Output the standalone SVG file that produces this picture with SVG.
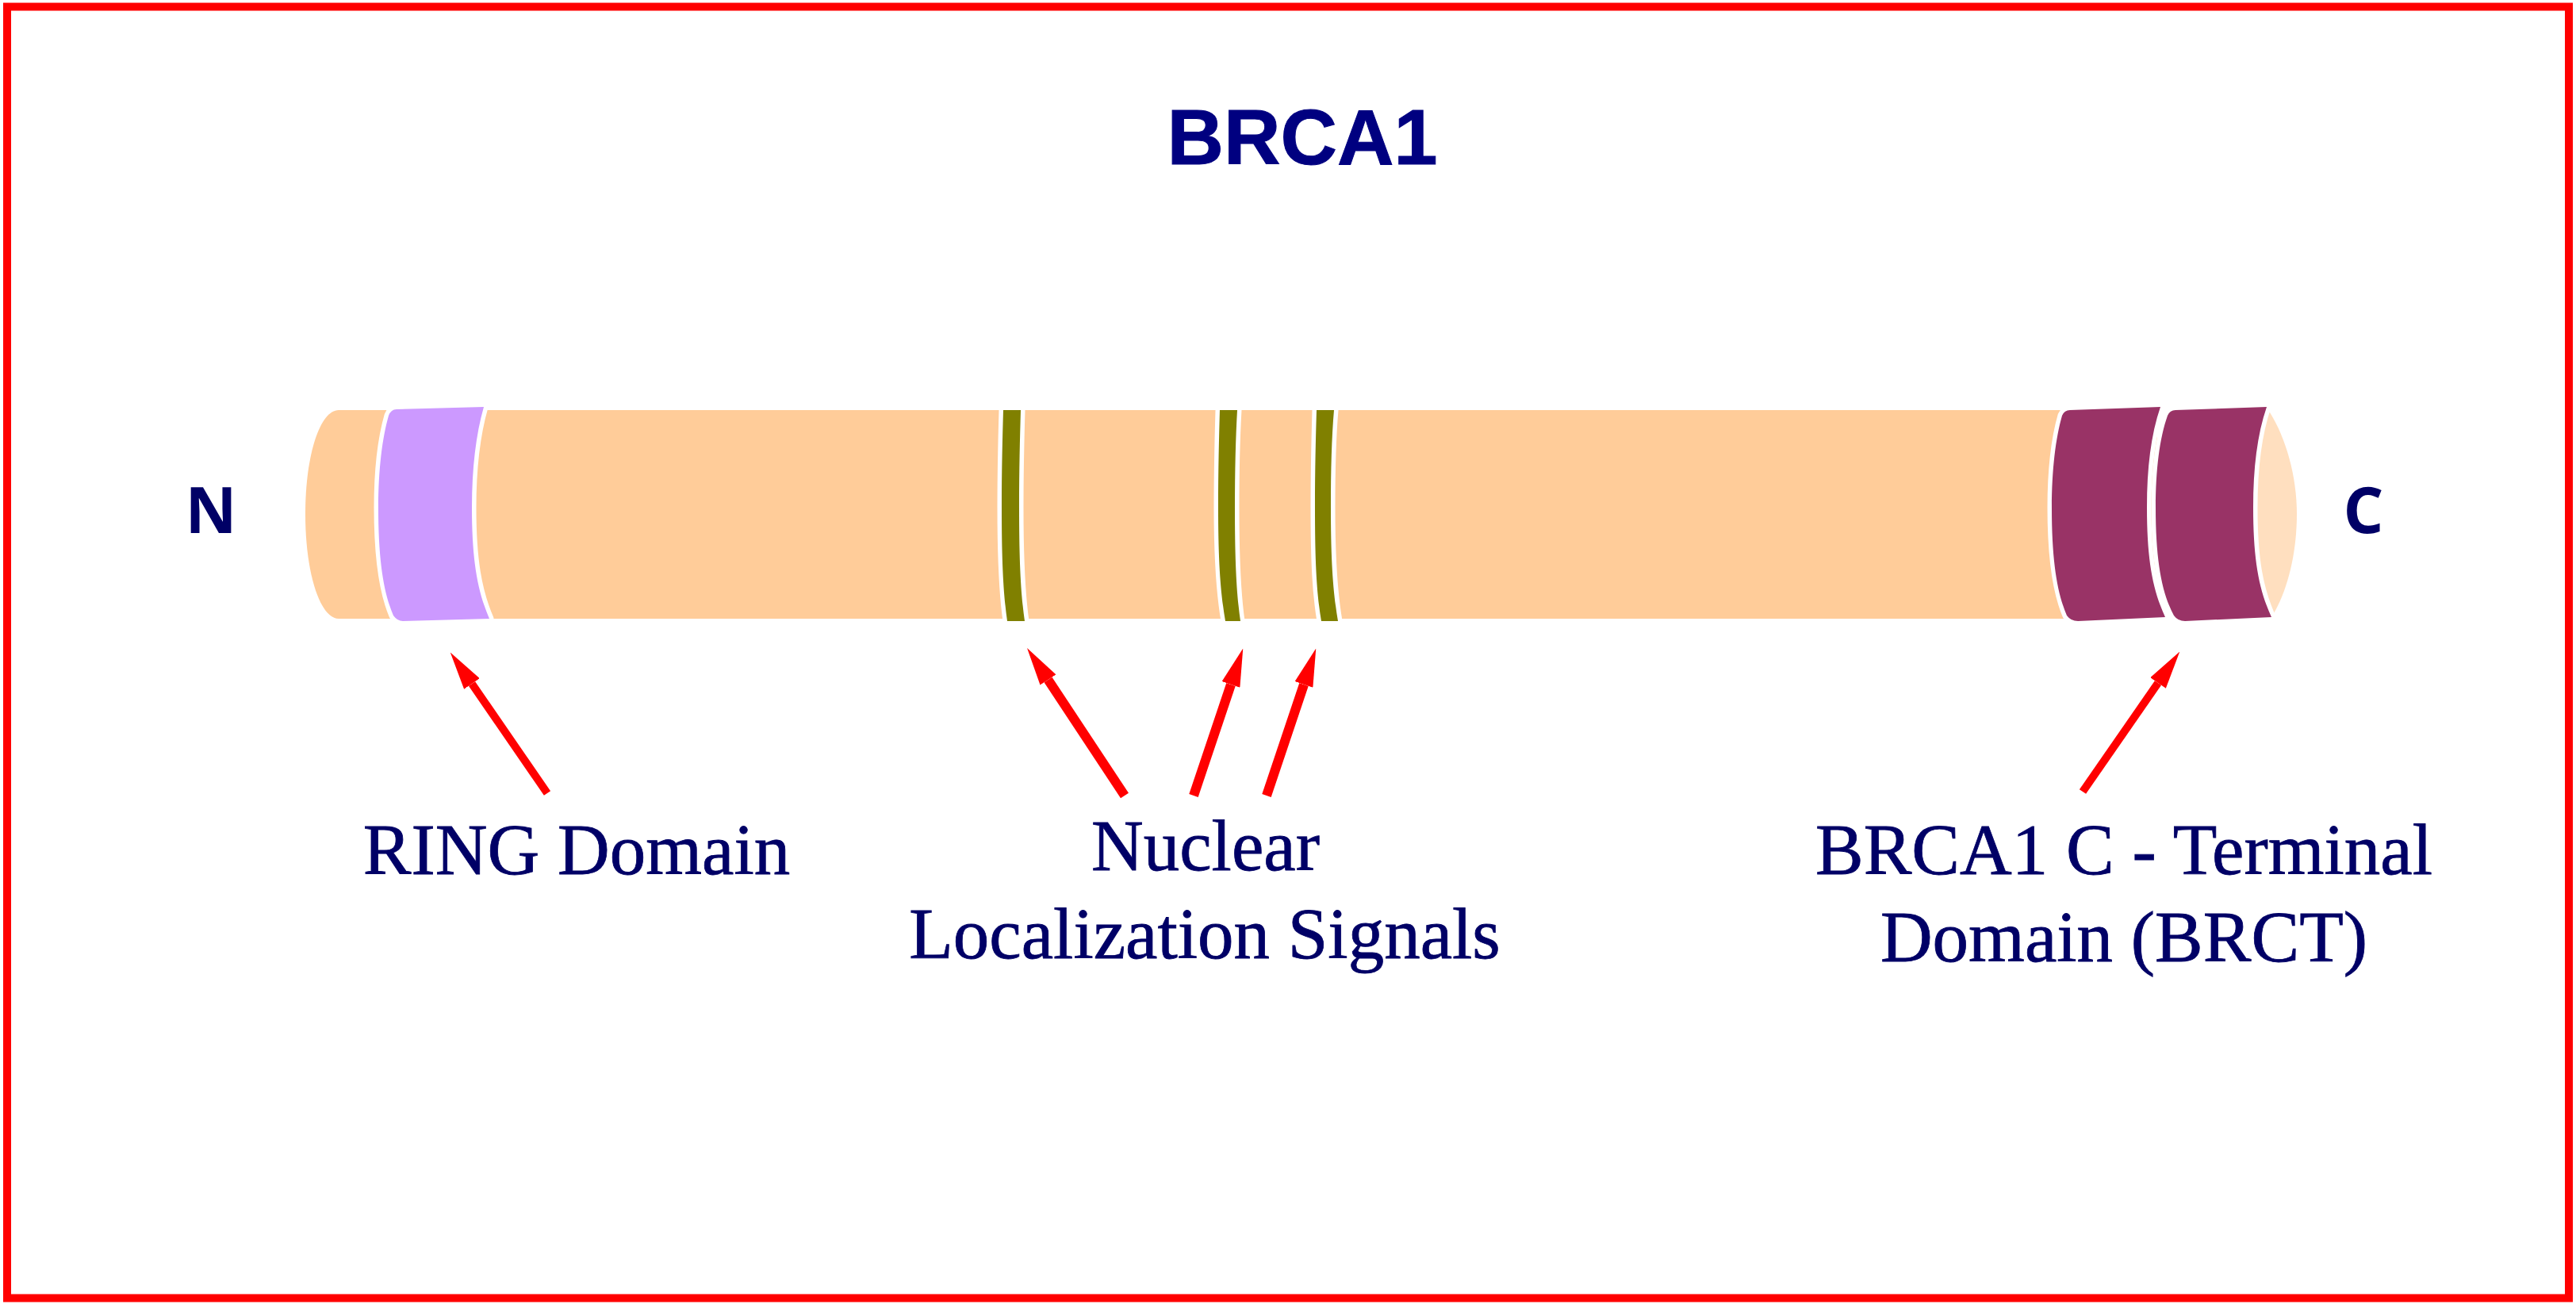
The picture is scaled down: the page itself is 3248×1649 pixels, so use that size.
<svg xmlns="http://www.w3.org/2000/svg" width="3248" height="1649" viewBox="0 0 3248 1649">
<style>
.orange{fill:#FFCC99}.cap{fill:#FFDFBF}
.band{stroke:#FFFFFF;stroke-width:11;stroke-linejoin:round;paint-order:stroke}
.purple{fill:#CC99FF}.olive{fill:#808000}.maroon{fill:#993366}
.title{font-family:"Liberation Sans",Arial,sans-serif;font-weight:700;font-size:99px;fill:#000080;stroke:#000080;stroke-width:1;text-anchor:middle}
.end{font-family:"Open Sans","Liberation Sans",sans-serif;font-weight:700;font-size:80px;fill:#000066;text-anchor:middle}
.label{font-family:"Liberation Serif","Times New Roman",serif;font-size:91px;fill:#000066;stroke:#000066;stroke-width:.8;text-anchor:middle}
.arrow{stroke:#FF0000;stroke-width:12;fill:none;marker-end:url(#head)}
.thin{stroke-width:10}
</style>
<defs>
<marker id="head" markerUnits="userSpaceOnUse" viewBox="0 -12 48 24" markerWidth="48" markerHeight="24" refX="0" refY="0" orient="auto"><path d="M0,-12 L48,0 L0,12 Z" fill="#FF0000"/></marker>
</defs>
<rect width="3248" height="1649" fill="#FFFFFF"/>
<rect id="frame" x="9" y="8.5" width="3230" height="1628" fill="none" stroke="#FF0000" stroke-width="10"/>
<g id="title"><text class="title" x="1642" y="207">BRCA1</text></g>
<g id="protein">
<path class="cap" d="M2800,520 L2862,520 C2882,552 2896,600 2896,648 C2896,696 2885,742 2867,773 L2800,773 Z"/>
<path class="orange" d="M2720,517 L427,517 C404,517 385,572 385,648 C385,724 404,780 427,780 L2720,780 Z"/>
</g>
<g id="ring-domain"><path class="band purple" d="M500,516 L610,513 C600,548 595,590 595,640 C595,706 602,745 617,780 L508,783 Q501,783 496,776 C484,748 477,708 477,640 C477,592 482,552 490,524 Q493,516 500,516 Z"/></g>
<g id="nls-1"><path class="band olive" d="M1265,517 L1287,517 C1286,552 1285,592 1285,640 C1285,708 1287,748 1292,783 L1270,783 C1265,748 1263,708 1263,640 C1263,592 1264,552 1265,517 Z"/></g>
<g id="nls-2"><path class="band olive" d="M1538,517 L1560,517 C1558,552 1557,592 1557,640 C1557,708 1559,748 1564,783 L1545,783 C1539,748 1536,708 1536,640 C1536,592 1537,552 1538,517 Z"/></g>
<g id="nls-3"><path class="band olive" d="M1660,517 L1682,517 C1679,552 1678,592 1678,640 C1678,708 1681,748 1687,783 L1666,783 C1660,748 1658,708 1658,640 C1658,592 1659,552 1660,517 Z"/></g>
<g id="brct-2"><path class="band maroon" d="M2743,517 L2858,513 C2846,548 2841,590 2841,640 C2841,705 2848,743 2864,778 L2755,783 Q2746,783 2741,776 C2726,748 2718,708 2718,640 C2718,592 2723,552 2733,524 Q2736,517 2743,517 Z"/></g>
<g id="brct-1"><path class="band maroon" d="M2610,517 L2724,513 C2712,548 2707,590 2707,640 C2707,705 2714,743 2730,778 L2620,783 Q2611,783 2606,776 C2594,748 2587,708 2587,640 C2587,592 2592,552 2600,524 Q2603,517 2610,517 Z"/></g>
<g id="n-terminus"><text class="end" x="266" y="672">N</text></g>
<g id="c-terminus"><text class="end" x="2980" y="672">C</text></g>
<g id="connectors">
<line class="arrow thin" x1="690" y1="1000" x2="595" y2="862"/>
<line class="arrow" x1="1418" y1="1003" x2="1321.5" y2="857"/>
<line class="arrow" x1="1505" y1="1003" x2="1552" y2="863"/>
<line class="arrow" x1="1597" y1="1003" x2="1644" y2="863"/>
<line class="arrow thin" x1="2626" y1="998" x2="2721" y2="861"/>
</g>
<g id="label-ring"><text class="label" x="727" y="1102">RING Domain</text></g>
<g id="label-nls"><text class="label" x="1520" y="1097">Nuclear</text><text class="label" x="1519" y="1208">Localization Signals</text></g>
<g id="label-brct"><text class="label" x="2678" y="1102">BRCA1 C - Terminal</text><text class="label" x="2678" y="1212">Domain (BRCT)</text></g>
</svg>
